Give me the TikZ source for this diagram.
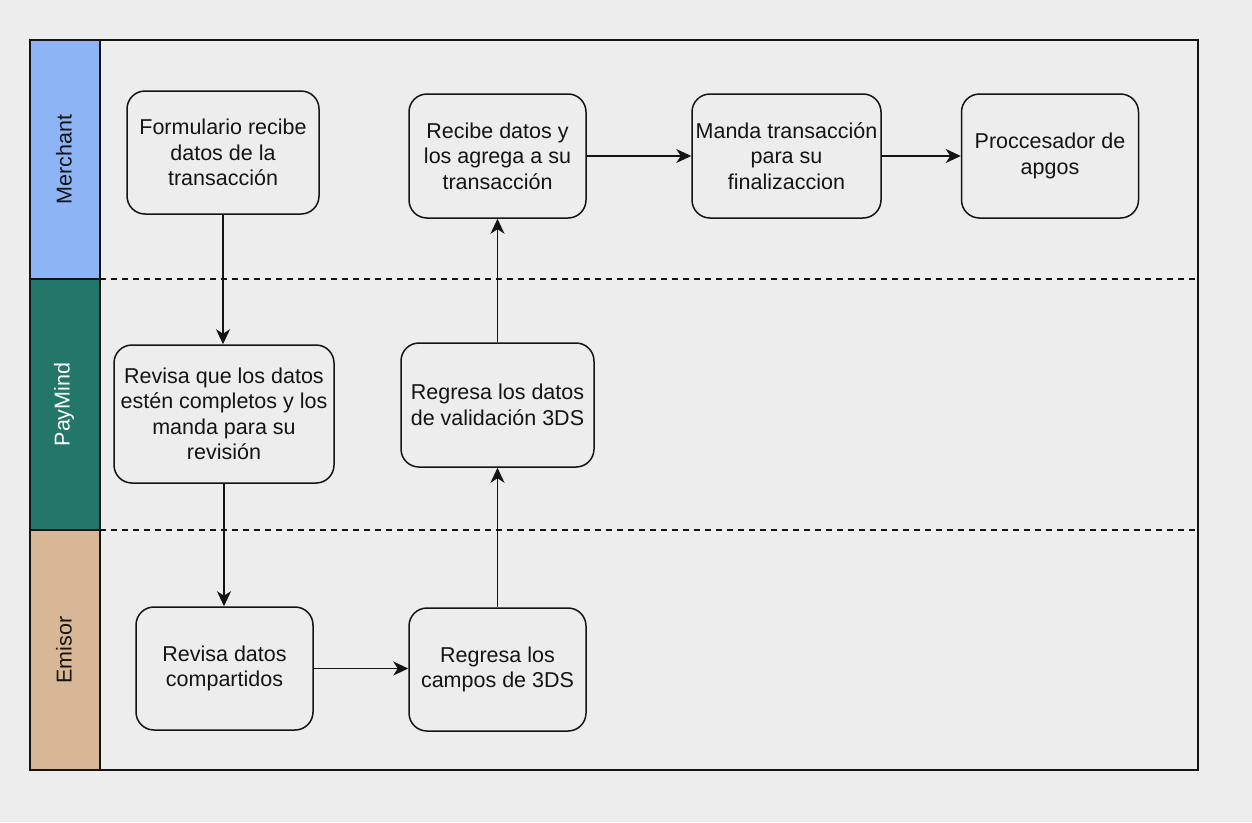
\documentclass[tikz,border=0pt]{standalone}
\usepackage{fontspec}
\setmainfont{Liberation Sans}
\usetikzlibrary{arrows.meta}
\definecolor{bg}{RGB}{237,237,237}
\definecolor{ink}{RGB}{20,20,20}
\definecolor{merch}{RGB}{141,180,245}
\definecolor{paym}{RGB}{34,119,104}
\definecolor{emis}{RGB}{216,183,150}
\begin{document}
\begin{tikzpicture}[x=1pt,y=-1pt,
  box/.style={draw=ink, line width=1.5pt, rounded corners=18pt, fill=bg, align=center,
    inner sep=0pt, text=ink, font=\fontsize{21.5}{25.5}\selectfont},
  lanelbl/.style={rotate=90, inner sep=0pt, font=\fontsize{21.5}{25.5}\selectfont},
  arr/.style={draw=ink, line width=1.5pt, -{Stealth[length=15pt,width=14pt,inset=4.5pt]}},
  lanesep/.style={draw=ink, line width=1.3pt, dash pattern=on 6pt off 5pt}]
\useasboundingbox[fill=bg] (0,0) rectangle (1252,822);
% lane headers
\fill[merch] (30,40) rectangle (100,279);
\fill[paym] (30,279) rectangle (100,530);
\fill[emis] (30,530) rectangle (100,770);
\node[lanelbl, text=ink] (lm) at (64,159.5) {Merchant};
\node[lanelbl, text=white] (lp) at (64,404.5) {PayMind};
\node[lanelbl, text=ink] (le) at (64,650) {Emisor};
% frame
\draw[lanesep] (100,279) -- (1198,279);
\draw[lanesep] (100,530) -- (1198,530);
\draw[ink, line width=1.8pt] (30,40) rectangle (1198,770);
\draw[ink, line width=1.8pt] (100,40) -- (100,770);
\draw[ink, line width=2.6pt] (30,279) -- (100,279);
\draw[ink, line width=2.6pt] (30,530) -- (100,530);
% boxes
\node[box, minimum width=192pt, minimum height=123pt] (a) at (223,152.5) {Formulario recibe\\datos de la\\transacción};
\node[box, minimum width=220pt, minimum height=138pt] (b) at (224,414) {Revisa que los datos\\estén completos y los\\manda para su\\revisión};
\node[box, minimum width=177pt, minimum height=123pt] (c) at (224.5,668.5) {Revisa datos\\compartidos};
\node[box, minimum width=177pt, minimum height=123pt] (d) at (497.5,669.5) {Regresa los\\campos de 3DS};
\node[box, minimum width=193pt, minimum height=124pt] (e) at (497.5,405) {Regresa los datos\\de validación 3DS};
\node[box, minimum width=177pt, minimum height=124pt] (f) at (497.5,156) {Recibe datos y\\los agrega a su\\transacción};
\node[box, minimum width=189pt, minimum height=124pt] (g) at (786.5,156) {Manda transacción\\para su\\finalizaccion};
\node[box, minimum width=177pt, minimum height=124pt] (h) at (1050,156) {Proccesador de\\apgos};
% connectors
\draw[arr] (a.south) -- (a.south |- b.north);
\draw[arr] (b.south) -- (b.south |- c.north);
\draw[arr] (c.east) -- (c.east -| d.west);
\draw[arr] (d.north) -- (d.north |- e.south);
\draw[arr] (e.north) -- (e.north |- f.south);
\draw[arr] (f.east) -- (g.west);
\draw[arr] (g.east) -- (h.west);
\end{tikzpicture}
\end{document}
